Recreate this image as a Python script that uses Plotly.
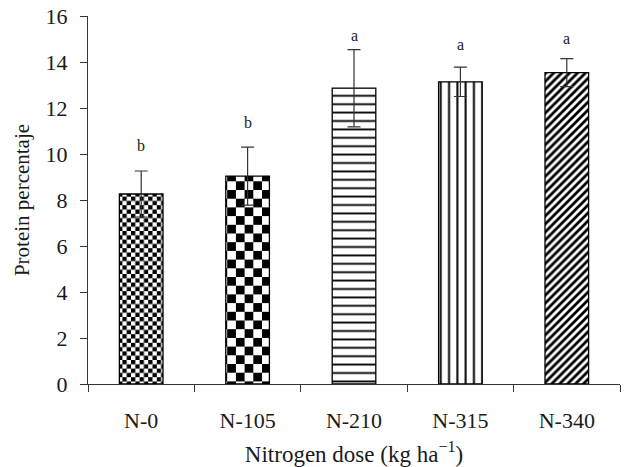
import plotly.graph_objects as go

categories = ["N-0", "N-105", "N-210", "N-315", "N-340"]
protein = [8.26, 9.04, 12.86, 13.14, 13.54]
errors = [1.0, 1.26, 1.68, 0.64, 0.61]
letters = ["b", "b", "a", "a", "a"]
letter_y = [10.39, 11.35, 15.17, 14.74, 15.04]

FONT = "Liberation Serif, DejaVu Serif, serif"
INK = "#1a1a1a"

fig = go.Figure()
fig.add_trace(go.Bar(
    x=categories, y=protein, width=0.41,
    marker=dict(
        color="white",
        line=dict(color="black", width=1.3),
        pattern=dict(
            shape=[".", ".", "-", "|", "/"],
            size=[4.3, 8.7, 8.4, 8.3, 5.6],
            solidity=[0.5, 0.5, 0.22, 0.24, 0.5],
            fgcolor="black", bgcolor="white", fillmode="overlay", fgopacity=1,
        ),
    ),
    error_y=dict(type="data", array=errors, visible=True, color="#333333",
                 thickness=1.2, width=6.5),
    showlegend=False,
))

for c, t, yy in zip(categories, letters, letter_y):
    fig.add_annotation(x=c, y=yy, text=t, showarrow=False,
                       font=dict(family=FONT, size=16, color=INK),
                       xanchor="center", yanchor="middle")

fig.update_layout(
    width=624, height=467,
    margin=dict(l=88, r=4, t=16, b=83),
    paper_bgcolor="white", plot_bgcolor="white",
    font=dict(family=FONT, color=INK),
)
fig.update_xaxes(
    type="category", range=[-0.5, 4.5], tickson="boundaries", automargin=False,
    showline=True, linecolor="#333333", linewidth=1.2,
    ticks="outside", ticklen=7, tickcolor="#333333", tickwidth=1.2,
    tickfont=dict(family=FONT, size=22, color=INK),
    ticklabelstandoff=16,
    title=dict(text="Nitrogen dose (kg ha<sup>−1</sup>)",
               font=dict(family=FONT, size=23, color=INK), standoff=14),
    showgrid=False, zeroline=False,
)
fig.update_yaxes(
    range=[0, 16], dtick=2, tick0=0, automargin=False,
    showline=True, linecolor="#333333", linewidth=1.2,
    ticks="outside", ticklen=7, tickcolor="#333333", tickwidth=1.2,
    tickfont=dict(family=FONT, size=22, color=INK),
    ticklabelstandoff=8,
    title=dict(text="Protein percentaje",
               font=dict(family=FONT, size=21, color=INK), standoff=10),
    showgrid=False, zeroline=False,
)

post = """
document.body.style.margin = '0';
document.body.style.overflow = 'hidden';
var gd = document.getElementById('{plot_id}');
function applyChecks(){
  var NS = 'http://www.w3.org/2000/svg';
  var defs = gd.querySelector('defs');
  function mk(id, c){
    if (document.getElementById(id)) return;
    var p = document.createElementNS(NS, 'pattern');
    p.setAttribute('id', id);
    p.setAttribute('patternUnits', 'userSpaceOnUse');
    p.setAttribute('width', 2*c); p.setAttribute('height', 2*c);
    var specs = [[0,0,2*c,2*c,'white'],[0,0,c,c,'black'],[c,c,c,c,'black']];
    specs.forEach(function(s){
      var r = document.createElementNS(NS, 'rect');
      r.setAttribute('x', s[0]); r.setAttribute('y', s[1]);
      r.setAttribute('width', s[2]); r.setAttribute('height', s[3]);
      r.setAttribute('fill', s[4]);
      p.appendChild(r);
    });
    defs.appendChild(p);
  }
  mk('chk_small', 4.3); mk('chk_large', 8.7);
  var layers = gd.querySelectorAll('.barlayer .point');
  var ids = ['chk_small', 'chk_large'];
  for (var i = 0; i < 2 && i < layers.length; i++) {
    var pts = layers[i].querySelectorAll('path');
    pts.forEach(function(pp){
      if ((pp.style.fill && pp.style.fill.indexOf('url') >= 0) || !pp.getAttribute('class')) {
        pp.style.fill = 'url(#' + ids[i] + ')';
      }
    });
  }
}
applyChecks();
gd.on('plotly_afterplot', applyChecks);
"""

fig.write_html("out.html", post_script=post, config={"displayModeBar": False})
